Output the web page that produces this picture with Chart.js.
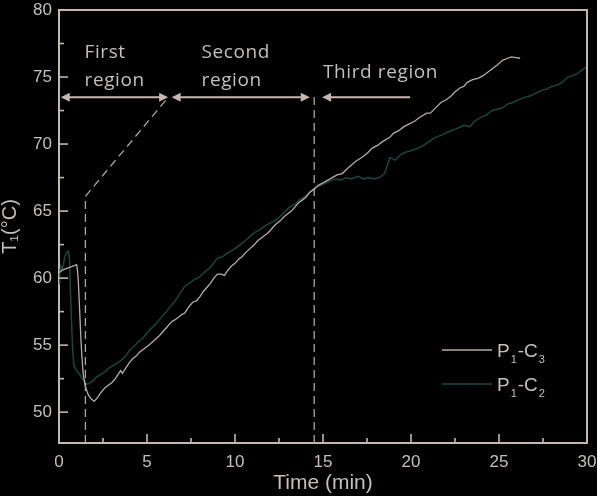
<!DOCTYPE html>
<html>
<head>
<meta charset="utf-8">
<script src="https://cdn.jsdelivr.net/npm/chart.js@4.4.1/dist/chart.umd.min.js"></script>
<style>
  html, body { margin: 0; padding: 0; background: #000; }
  #wrap { width: 597px; height: 496px; position: relative; }
</style>
</head>
<body>
<div id="wrap"><canvas id="chart"></canvas></div>
<script>
// P1-C3 (grey curve)
const c3Time = [0.0, 0.2, 0.4, 0.6, 0.8, 1.0, 1.05, 1.1, 1.18, 1.25, 1.32, 1.38, 1.48, 1.66, 1.82, 2.0,
  2.2, 2.4, 2.6, 2.8, 3.0, 3.2, 3.4, 3.5, 3.6, 3.8, 4.0, 4.2, 4.4, 4.6, 4.8, 5.0, 5.2, 5.45, 5.7, 5.9,
  6.1, 6.4, 6.6, 6.8, 7.0, 7.15, 7.4, 7.6, 7.8, 8.0, 8.2, 8.4, 8.6, 8.8, 9.0, 9.2, 9.4, 9.6, 9.8, 10.0,
  10.2, 10.4, 10.6, 10.85, 11.1, 11.3, 11.5, 11.7, 11.9, 12.1, 12.3, 12.55, 12.8, 13.0, 13.2, 13.4, 13.6,
  13.8, 14.0, 14.25, 14.45, 14.7, 15.0, 15.4, 15.8, 16.1, 16.4, 16.9, 17.2, 17.5, 17.8, 18.1, 18.4, 18.8,
  19.0, 19.3, 19.6, 19.9, 20.2, 20.5, 20.9, 21.1, 21.4, 21.7, 22.0, 22.3, 22.5, 22.8, 23.0, 23.2, 23.5,
  23.8, 24.1, 24.3, 24.6, 24.9, 25.2, 25.5, 25.7, 25.95, 26.2];
const c3Temp = [60.4, 60.6, 60.7, 60.8, 60.9, 61.0, 60.6, 59.7, 57.4, 55.3, 53.8, 52.8, 52.0, 51.3, 51.0, 50.8,
  51.1, 51.5, 51.8, 52.0, 52.2, 52.5, 52.9, 53.1, 52.9, 53.3, 53.7, 54.0, 54.2, 54.5, 54.7, 54.9, 55.1, 55.4, 55.7, 56.0,
  56.3, 56.75, 56.9, 57.1, 57.3, 57.4, 57.9, 58.2, 58.3, 58.6, 59.0, 59.3, 59.6, 60.0, 60.3, 60.3, 60.2, 60.6, 60.9, 61.1,
  61.4, 61.6, 61.9, 62.2, 62.5, 62.8, 63.0, 63.2, 63.4, 63.7, 64.0, 64.25, 64.6, 64.8, 65.0, 65.3, 65.6,
  65.8, 66.0, 66.4, 66.6, 66.9, 67.1, 67.4, 67.7, 67.8, 68.2, 68.75, 69.0, 69.3, 69.7, 69.9, 70.2, 70.5,
  70.8, 71.0, 71.3, 71.5, 71.7, 72.0, 72.3, 72.3, 72.7, 73.1, 73.3, 73.6, 73.9, 74.2, 74.3, 74.6, 74.8,
  74.9, 75.1, 75.3, 75.6, 75.9, 76.25, 76.4, 76.5, 76.45, 76.4];

// P1-C2 (dark teal curve)
const c2Time = [0.0, 0.05, 0.1, 0.15, 0.25, 0.35, 0.45, 0.53, 0.6, 0.65, 0.72, 0.78, 0.85, 1.0, 1.19, 1.32,
  1.44, 1.55, 1.65, 1.9, 2.1, 2.35, 2.6, 2.85, 3.1, 3.35, 3.56, 3.8, 4.0, 4.25, 4.5, 4.75, 5.0, 5.2, 5.45,
  5.7, 5.9, 6.1, 6.4, 6.6, 6.9, 7.15, 7.4, 7.7, 8.0, 8.3, 8.6, 9.0, 9.3, 9.6, 10.0, 10.3, 10.6, 10.85, 11.1,
  11.4, 11.7, 12.0, 12.3, 12.55, 12.8, 13.1, 13.4, 13.7, 14.0, 14.25, 14.45, 14.7, 15.0, 15.4, 15.7, 16.0,
  16.3, 16.6, 17.0, 17.3, 17.6, 17.9, 18.2, 18.5, 18.8, 19.1, 19.4, 19.7, 20.0, 20.4, 20.7, 21.1, 21.4,
  21.8, 22.1, 22.5, 23.0, 23.35, 23.6, 24.0, 24.3, 24.6, 24.9, 25.2, 25.5, 25.8, 26.1, 26.5, 26.8, 27.1,
  27.4, 27.7, 28.0, 28.3, 28.6, 28.9, 29.2, 29.5, 29.8, 30.0];
const c2Temp = [59.6, 60.4, 60.9, 60.6, 61.0, 61.7, 61.9, 62.0, 61.4, 59.0, 56.5, 54.5, 53.5, 53.1, 52.8, 52.5,
  52.4, 52.1, 52.1, 52.3, 52.6, 52.8, 53.0, 53.3, 53.5, 53.7, 53.9, 54.2, 54.6, 54.9, 55.25, 55.5, 55.9, 56.2, 56.5,
  56.9, 57.2, 57.5, 58.0, 58.3, 58.9, 59.4, 59.6, 59.9, 60.1, 60.5, 60.8, 61.5, 61.6, 61.9, 62.2, 62.5, 62.8, 63.1, 63.4,
  63.6, 63.9, 64.1, 64.3, 64.6, 64.9, 65.3, 65.5, 65.9, 66.1, 66.4, 66.6, 66.8, 67.0, 67.25, 67.4, 67.3,
  67.5, 67.4, 67.6, 67.4, 67.5, 67.4, 67.5, 67.8, 69.0, 68.8, 69.2, 69.4, 69.5, 69.7, 69.9, 70.25, 70.5,
  70.7, 70.9, 71.1, 71.4, 71.3, 71.7, 72.0, 72.2, 72.5, 72.6, 72.7, 73.0, 73.1, 73.3, 73.5, 73.6, 73.8,
  74.0, 74.1, 74.3, 74.4, 74.6, 75.0, 75.1, 75.3, 75.6, 75.8];

// axis ticks (labels only on multiples of 5)
const xTicks = [0, 2.5, 5, 7.5, 10, 12.5, 15, 17.5, 20, 22.5, 25, 27.5, 30];
const yTicks = [50, 52.5, 55, 57.5, 60, 62.5, 65, 67.5, 70, 72.5, 75, 77.5, 80];

// region annotations, in data units
const regionArrowY = 73.5;
const regionArrows = [[0.1, 6.2], [6.4, 14.25]];
const thirdArrow = [14.95, 19.95];
const boundaryLines = [[1.5, 66.1], [14.5, 73.8]];
const diagonalEnd = [6.15, 73.4];
const regionLabels = [
  { text: 'First', x: 1.45, y: 76.45 },
  { text: 'region', x: 1.45, y: 74.35 },
  { text: 'Second', x: 8.1, y: 76.45 },
  { text: 'region', x: 8.1, y: 74.35 },
  { text: 'Third region', x: 15.0, y: 74.95 }
];

const axisColor = '#c6b6b2';
const textColor = '#c8bebb';
const greyLine = '#b8aaa7';
const tealLine = '#174a41';

function arrowHead(ctx, x, y, dir) {
  ctx.beginPath();
  ctx.moveTo(x, y);
  ctx.lineTo(x - dir * 9, y - 4.5);
  ctx.lineTo(x - dir * 9, y + 4.5);
  ctx.closePath();
  ctx.fill();
}

const overlay = {
  id: 'overlay',
  afterDatasetsDraw(chart) {
    const { ctx, scales: { x, y } } = chart;
    const ay = y.getPixelForValue(regionArrowY);
    ctx.save();
    ctx.strokeStyle = '#b0a6a4';
    ctx.lineWidth = 1.3;
    ctx.setLineDash([8, 5]);
    boundaryLines.forEach(([t, top]) => {
      ctx.beginPath();
      ctx.moveTo(x.getPixelForValue(t), chart.chartArea.bottom);
      ctx.lineTo(x.getPixelForValue(t), y.getPixelForValue(top));
      ctx.stroke();
    });
    ctx.beginPath();
    ctx.moveTo(x.getPixelForValue(boundaryLines[0][0]), y.getPixelForValue(boundaryLines[0][1]));
    ctx.lineTo(x.getPixelForValue(diagonalEnd[0]), y.getPixelForValue(diagonalEnd[1]));
    ctx.stroke();
    ctx.setLineDash([]);

    ctx.strokeStyle = axisColor;
    ctx.fillStyle = axisColor;
    ctx.lineWidth = 2;
    regionArrows.forEach(([a, b]) => {
      const xa = x.getPixelForValue(a), xb = x.getPixelForValue(b);
      ctx.beginPath();
      ctx.moveTo(xa + 5, ay);
      ctx.lineTo(xb - 5, ay);
      ctx.stroke();
      arrowHead(ctx, xa, ay, -1);
      arrowHead(ctx, xb, ay, 1);
    });
    const xa = x.getPixelForValue(thirdArrow[0]), xb = x.getPixelForValue(thirdArrow[1]);
    ctx.beginPath();
    ctx.moveTo(xa + 5, ay);
    ctx.lineTo(xb, ay);
    ctx.stroke();
    arrowHead(ctx, xa, ay, -1);

    ctx.fillStyle = textColor;
    ctx.font = '19px "Open Sans"';
    ctx.letterSpacing = '0.6px';
    ctx.textBaseline = 'alphabetic';
    ctx.textAlign = 'left';
    regionLabels.forEach(l => {
      ctx.fillText(l.text, x.getPixelForValue(l.x), y.getPixelForValue(l.y));
    });
    ctx.restore();
  },
  afterDraw(chart) {
    const { ctx, chartArea: a, scales: { x, y } } = chart;
    ctx.save();
    ctx.strokeStyle = axisColor;
    ctx.lineWidth = 2;
    ctx.beginPath();
    ctx.moveTo(a.left, a.top);
    ctx.lineTo(a.right, a.top);
    ctx.lineTo(a.right, a.bottom);
    ctx.stroke();

    // inward ticks
    ctx.lineWidth = 1.6;
    x.ticks.forEach(t => {
      if (t.value <= x.min || t.value >= x.max) return;
      const px = x.getPixelForValue(t.value);
      const len = t.value % 5 === 0 ? 9 : 5;
      ctx.beginPath();
      ctx.moveTo(px, a.bottom);
      ctx.lineTo(px, a.bottom - len);
      ctx.stroke();
    });
    y.ticks.forEach(t => {
      if (t.value >= y.max) return;
      const py = y.getPixelForValue(t.value);
      const len = t.value % 5 === 0 ? 9 : 5;
      ctx.beginPath();
      ctx.moveTo(a.left, py);
      ctx.lineTo(a.left + len, py);
      ctx.stroke();
    });

    // legend
    const items = [
      { color: greyLine, sub2: '3' },
      { color: tealLine, sub2: '2' }
    ];
    items.forEach((it, i) => {
      const ly = a.bottom - 93 + i * 34;
      const lx = a.right - 145;
      ctx.strokeStyle = it.color;
      ctx.lineWidth = 1.3;
      ctx.beginPath();
      ctx.moveTo(lx, ly);
      ctx.lineTo(lx + 50, ly);
      ctx.stroke();
      ctx.fillStyle = textColor;
      ctx.textBaseline = 'alphabetic';
      ctx.textAlign = 'left';
      let tx = lx + 55;
      const base = ly + 7;
      const big = '19px "Liberation Sans"', small = '11px "Liberation Sans"';
      [['P', big, 0], ['1', small, 6], ['-C', big, 0], [it.sub2, small, 6]].forEach(([s, f, dy]) => {
        ctx.font = f;
        ctx.fillText(s, tx, base + dy);
        tx += ctx.measureText(s).width + 1;
      });
    });
    ctx.restore();
  }
};

const tickFont = { family: 'Liberation Sans', size: 17 };

new Chart(document.getElementById('chart'), {
  type: 'line',
  data: {
    datasets: [
      {
        label: 'P1-C3',
        data: c3Time.map((t, i) => ({ x: t, y: c3Temp[i] })),
        borderColor: greyLine,
        borderWidth: 1.3,
        pointRadius: 0,
        tension: 0
      },
      {
        label: 'P1-C2',
        data: c2Time.map((t, i) => ({ x: t, y: c2Temp[i] })),
        borderColor: tealLine,
        borderWidth: 1.4,
        pointRadius: 0,
        tension: 0
      }
    ]
  },
  options: {
    responsive: true,
    maintainAspectRatio: false,
    animation: false,
    layout: { padding: { top: 10, right: 10, left: 0, bottom: 0 } },
    plugins: { legend: { display: false }, tooltip: { enabled: false } },
    scales: {
      x: {
        type: 'linear',
        min: 0,
        max: 30,
        afterBuildTicks: s => { s.ticks = xTicks.map(v => ({ value: v })); },
        afterFit: s => { s.height = 53; s.paddingLeft = 0; s.paddingRight = 0; },
        ticks: {
          color: textColor,
          font: tickFont,
          padding: 9,
          maxRotation: 0,
          autoSkip: false,
          callback: v => (v % 5 === 0 ? v : '')
        },
        grid: { display: true, drawOnChartArea: false, drawTicks: false },
        border: { display: true, color: axisColor, width: 2 },
        title: {
          display: true,
          text: 'Time (min)',
          color: textColor,
          font: { family: 'Liberation Sans', size: 21, lineHeight: 1.2 },
          padding: { top: 0, bottom: 0 }
        }
      },
      y: {
        min: 47.7,
        max: 80,
        afterBuildTicks: s => { s.ticks = yTicks.map(v => ({ value: v })); },
        afterFit: s => { s.width = 59; s.paddingTop = 0; s.paddingBottom = 0; },
        ticks: {
          color: textColor,
          font: tickFont,
          padding: 7,
          autoSkip: false,
          callback: v => (v % 5 === 0 ? v : '')
        },
        grid: { display: true, drawOnChartArea: false, drawTicks: false },
        border: { display: true, color: axisColor, width: 2 },
        title: {
          display: true,
          text: 'T\u2081(\u00B0C)',
          color: textColor,
          font: { family: 'Liberation Sans', size: 20, lineHeight: 1.0 },
          padding: { top: 0, bottom: 0 }
        }
      }
    }
  },
  plugins: [overlay]
});
</script>
</body>
</html>
